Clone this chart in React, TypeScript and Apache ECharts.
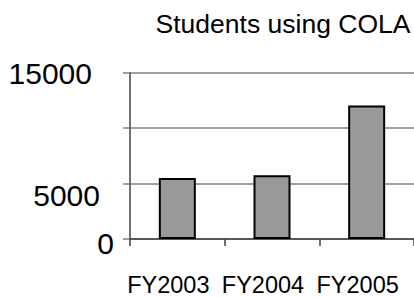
import React, { useEffect, useRef } from "react";
import * as echarts from "echarts";

const categories = ["FY2003", "FY2004", "FY2005"];
const students = [5500, 5750, 12050];
const yTicks = [0, 5000, 15000];
const titleText = "Students using COLA";

export default function App() {
  const ref = useRef<HTMLDivElement>(null);
  useEffect(() => {
    if (!ref.current) return;
    const chart = echarts.init(ref.current, null, { renderer: "svg" });
    const font = "Liberation Sans, Arial, sans-serif";
    chart.setOption({
      animation: false,
      backgroundColor: "#ffffff",
      title: {
        text: titleText,
        left: 278,
        textAlign: "center",
        top: 5,
        textStyle: { fontFamily: font, fontSize: 26.5, fontWeight: "normal", color: "#000" },
      },
      grid: { left: 130, top: 72.7, height: 166.3, right: -3, containLabel: false },
      xAxis: {
        type: "category",
        data: categories,
        axisLine: { show: true, lineStyle: { color: "#404040", width: 1.5 } },
        axisTick: { show: true, length: 7, alignWithLabel: false, lineStyle: { color: "#404040", width: 1.5 } },
        axisLabel: {
          margin: 34,
          fontFamily: font,
          fontSize: 23.5,
          color: "#000",
          padding: [0, 18, 0, 0],
          interval: 0,
        },
        splitLine: { show: false },
      },
      yAxis: {
        type: "value",
        min: 0,
        max: 15000,
        interval: 5000,
        axisLine: { show: true, lineStyle: { color: "#404040", width: 1.5 } },
        axisTick: { show: true, length: 7, lineStyle: { color: "#808080", width: 1.5 } },
        splitLine: { show: true, lineStyle: { color: "#808080", width: 1.5 } },
        axisLabel: {
          margin: 16,
          fontFamily: font,
          fontSize: 30,
          color: "#000",
          formatter: (v: number) => {
            if (!yTicks.includes(v)) return "";
            if (v === 0) return "{a|0}";
            if (v === 5000) return "{b|5000}";
            return "{c|15000}";
          },
          rich: {
            a: { fontFamily: font, fontSize: 30, color: "#000", padding: [8, 0, 0, 0] },
            b: { fontFamily: font, fontSize: 30, color: "#000", padding: [23, 14, 0, 0] },
            c: { fontFamily: font, fontSize: 30, color: "#000", padding: [2, 22, 0, 0] },
          },
        },
      },
      series: [
        {
          type: "bar",
          data: students,
          barWidth: 37,
          itemStyle: { color: "#999999", borderColor: "#000000", borderWidth: 2 },
        },
      ],
    });
    return () => chart.dispose();
  }, []);
  return (
    <div
      ref={ref}
      style={{ position: "absolute", left: 0, top: 0, width: 414, height: 297 }}
    />
  );
}
